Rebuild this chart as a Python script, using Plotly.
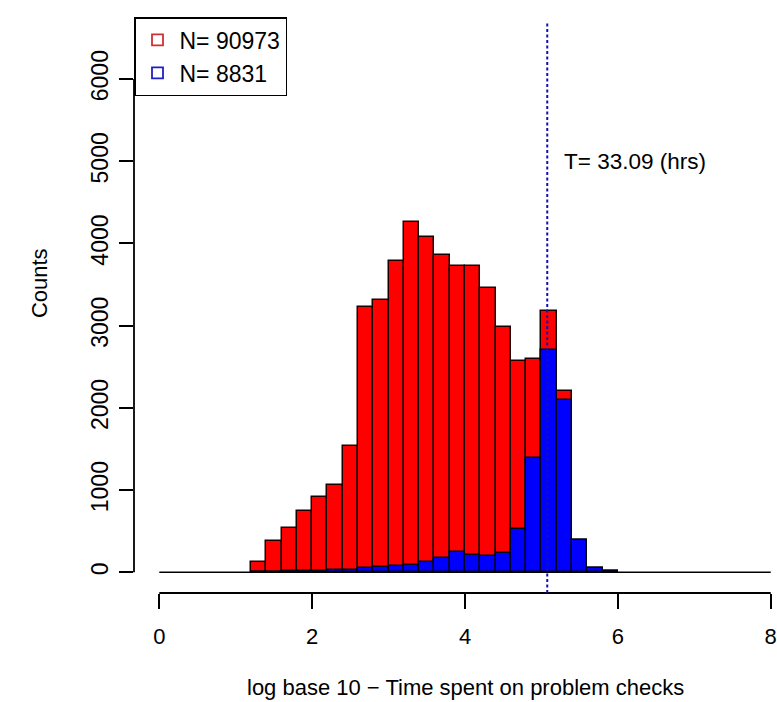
import plotly.graph_objects as go

# ---- data ----
bin_centers = [1.3, 1.5, 1.7, 1.9, 2.1, 2.3, 2.5, 2.7, 2.9, 3.1, 3.3, 3.5,
               3.7, 3.9, 4.1, 4.3, 4.5, 4.7, 4.9, 5.1, 5.3, 5.5, 5.7, 5.9]
bin_width = 0.2
counts_all = [129, 384, 543, 746, 920, 1058, 1540, 3227, 3312, 3787, 4265, 4079,
              3864, 3730, 3730, 3462, 2980, 2574, 2600, 3183, 2206, 395, 49, 20]
counts_sub = [0, 5, 10, 15, 20, 25, 30, 57, 64, 76, 93, 129,
              172, 250, 210, 198, 231, 522, 1387, 2705, 2097, 393, 49, 20]
legend_labels = ["N= 90973", "N= 8831"]
threshold_x = 5.076          # log10(33.09 h * 3600 s)
threshold_label = "T= 33.09 (hrs)"
x_ticks = [0, 2, 4, 6, 8]
y_ticks = [0, 1000, 2000, 3000, 4000, 5000, 6000]

FONT = "Liberation Sans, Arial, Helvetica, sans-serif"
RED = "#FF0000"
BLUE = "#0000FF"

fig = go.Figure()
fig.add_trace(go.Bar(x=bin_centers, y=counts_all, width=bin_width,
                     marker=dict(color=RED, line=dict(color="#1a0000", width=1.5)),
                     showlegend=False))
fig.add_trace(go.Bar(x=bin_centers, y=counts_sub, width=bin_width,
                     marker=dict(color=BLUE, line=dict(color="#00001a", width=1.5)),
                     showlegend=False))
# legend entries (open squares like R's legend)
fig.add_trace(go.Scatter(x=[None], y=[None], mode="markers", name=legend_labels[0],
                         marker=dict(symbol="square-open", size=11, color="#D03030",
                                     line=dict(width=1.8))))
fig.add_trace(go.Scatter(x=[None], y=[None], mode="markers", name=legend_labels[1],
                         marker=dict(symbol="square-open", size=11, color="#2020C0",
                                     line=dict(width=1.8))))

shapes = [
    # baseline at 0 (empty bins)
    dict(type="line", xref="x", yref="y", x0=0, x1=8, y0=0, y1=0,
         line=dict(color="black", width=1.5)),
    # x-axis line (R style, only between extreme ticks)
    dict(type="line", xref="x", yref="paper", x0=0, x1=8, y0=0, y1=0,
         line=dict(color="black", width=1.8)),
    # y-axis line
    dict(type="line", xref="paper", yref="y", x0=0, x1=0, y0=0, y1=6000,
         line=dict(color="black", width=1.8)),
    # threshold dashed line
    dict(type="line", xref="x", yref="y", x0=threshold_x, x1=threshold_x,
         y0=-252, y1=6686, line=dict(color="#1010B8", width=2, dash="3px,2.5px")),
]

annotations = [
    dict(text=threshold_label, x=5.27, y=5000, xref="x", yref="y",
         xanchor="left", yanchor="middle", showarrow=False,
         font=dict(family=FONT, size=22.5, color="black")),
    dict(text="Counts", x=-0.146, y=0.5228, xref="paper", yref="paper",
         textangle=-90, showarrow=False, xanchor="center", yanchor="middle",
         font=dict(family=FONT, size=22, color="black")),
    dict(text="log base 10 \u2212 Time spent on problem checks", x=0.5157, y=-0.160,
         xref="paper", yref="paper", showarrow=False, xanchor="center", yanchor="middle",
         font=dict(family=FONT, size=22, color="black")),
]

fig.update_layout(
    width=777, height=702,
    margin=dict(l=134, r=0, t=0, b=109, pad=0),
    paper_bgcolor="white", plot_bgcolor="white",
    barmode="overlay", bargap=0,
    font=dict(family=FONT, size=22, color="black"),
    shapes=shapes, annotations=annotations,
    legend=dict(x=0, y=1 - 17 / 593, xanchor="left", yanchor="top",
                bgcolor="white", bordercolor="black", borderwidth=1.5,
                font=dict(family=FONT, size=23, color="black"),
                itemwidth=34, tracegroupgap=0),
    xaxis=dict(range=[-0.331, 8.082], tickvals=x_ticks, ticktext=[str(v) for v in x_ticks],
               ticks="outside", ticklen=15, tickwidth=1.8, tickcolor="black",
               showline=False, showgrid=False, zeroline=False,
               ticklabelstandoff=9, ticklabeloverflow="allow", tickfont=dict(size=22)),
    yaxis=dict(range=[-252, 6962], tickvals=y_ticks, ticktext=[str(v) for v in y_ticks],
               ticks="outside", ticklen=14, tickwidth=1.8, tickcolor="black",
               tickangle=-90, showline=False, showgrid=False, zeroline=False,
               ticklabelstandoff=2, tickfont=dict(size=23)),
)

fig.write_html(
    "out.html",
    config={"displayModeBar": False},
    post_script="document.body.style.margin='0';document.body.style.overflow='hidden';",
)
